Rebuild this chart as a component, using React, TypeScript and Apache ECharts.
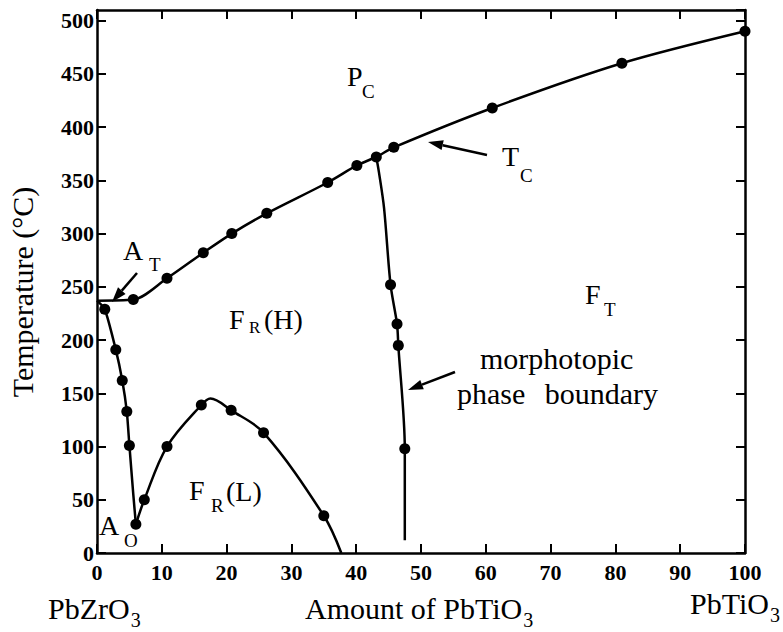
import React, { useEffect, useRef } from "react";
import * as echarts from "echarts";

const FONT = "'Liberation Serif', 'Times New Roman', serif";

// ---- data: [x (% PbTiO3), T (°C), marker 1 = measured dot, 0 = curve only]
const curieLine: [number, number, number][] = [
  [0, 237, 0], [5.6, 238, 1], [10.8, 258, 1], [16.4, 282, 1], [20.8, 300, 1],
  [26.2, 319, 1], [35.6, 348, 1], [40.1, 364, 1], [43.1, 372, 1], [45.8, 381, 1],
  [61.0, 418, 1], [81.0, 460, 1], [100, 490, 1],
];
const antiferroLine: [number, number, number][] = [
  [0, 237, 0], [1.2, 229, 1], [2.9, 191, 1], [3.9, 162, 1], [4.6, 133, 1],
  [5.0, 101, 1], [5.6, 55, 0], [6.0, 27, 1],
];
const lowHighLine: [number, number, number][] = [
  [6.0, 27, 0], [7.3, 50, 1], [10.8, 100, 1], [16.1, 139, 1], [17.5, 145, 0],
  [20.7, 134, 1], [25.7, 113, 1], [35.0, 35, 1], [37.7, 0, 0],
];
const mpbLine: [number, number, number][] = [
  [43.1, 372, 0], [43.5, 358, 0], [44.3, 324, 0], [45.3, 252, 1], [46.3, 215, 1],
  [46.5, 195, 1], [47.5, 98, 1], [47.5, 12, 0],
];

const xMin = 0, xMax = 100, xStep = 10;
const yMin = 0, yMax = 510, yStep = 50;

// ---- annotation layout (pixels)
const labels: { t: string; x: number; y: number; s: number; align?: string }[] = [
  { t: "P", x: 347, y: 76, s: 28 }, { t: "C", x: 362, y: 91, s: 19 },
  { t: "T", x: 502, y: 156, s: 28 }, { t: "C", x: 520, y: 175, s: 19 },
  { t: "A", x: 123, y: 250, s: 28 }, { t: "T", x: 149, y: 264, s: 19 },
  { t: "F", x: 229, y: 319, s: 28 }, { t: "R", x: 249, y: 327, s: 17 }, { t: "(H)", x: 264, y: 319, s: 28 },
  { t: "F", x: 585, y: 294, s: 28 }, { t: "T", x: 604, y: 309, s: 19 },
  { t: "morphotopic", x: 480, y: 358, s: 30 },
  { t: "phase", x: 457, y: 393, s: 30 }, { t: "boundary", x: 658, y: 393, s: 30, align: "right" },
  { t: "F", x: 189, y: 490, s: 28 }, { t: "R", x: 211, y: 505, s: 19 }, { t: "(L)", x: 226, y: 491, s: 28 },
  { t: "A", x: 99, y: 525, s: 28 }, { t: "O", x: 124, y: 540, s: 19 },
];
// name labels with a subscript placed right after the measured main text
const nameLabels: { t: string; sub: string; x: number; y: number; s: number }[] = [
  { t: "PbZrO", sub: "3", x: 48, y: 608, s: 30 },
  { t: "Amount of PbTiO", sub: "3", x: 305, y: 608, s: 30 },
  { t: "PbTiO", sub: "3", x: 690, y: 603, s: 30 },
];
const arrows: [number, number, number, number][] = [
  [487, 155, 428, 142],
  [137, 273, 112, 302],
  [455, 372, 408, 390],
];

function toData(points: [number, number, number][]) {
  return points.map(([x, y, m]) => (m ? { value: [x, y] } : { value: [x, y], symbol: "none" }));
}

function measure(text: string, size: number) {
  const c = document.createElement("canvas").getContext("2d");
  if (!c) return text.length * size * 0.5;
  c.font = `${size}px ${FONT}`;
  return c.measureText(text).width;
}

function textEl(t: string, x: number, y: number, s: number, align = "left") {
  return {
    type: "text",
    x,
    y,
    silent: true,
    style: {
      text: t,
      font: `${s}px ${FONT}`,
      fill: "#000",
      align,
      verticalAlign: "middle",
    },
  };
}

function arrowEls(x1: number, y1: number, x2: number, y2: number) {
  const dx = x2 - x1, dy = y2 - y1, L = Math.hypot(dx, dy);
  const ux = dx / L, uy = dy / L;
  const hl = 15, hw = 5;
  const bx = x2 - ux * hl, by = y2 - uy * hl;
  const px = -uy, py = ux;
  return [
    { type: "line", shape: { x1, y1, x2: bx, y2: by }, style: { stroke: "#000", lineWidth: 2.5 }, silent: true },
    {
      type: "polygon",
      shape: { points: [[x2, y2], [bx + px * hw, by + py * hw], [bx - px * hw, by - py * hw]] },
      style: { fill: "#000" },
      silent: true,
    },
  ];
}

const axisLine = { show: true, onZero: false, lineStyle: { color: "#000", width: 2.5 } };
const axisTick = { show: true, inside: true, length: 9, lineStyle: { color: "#000", width: 2 } };
const tickFont = { color: "#000", fontFamily: FONT, fontWeight: "bold" as const, fontSize: 22 };

export default function App() {
  const ref = useRef<HTMLDivElement>(null);
  useEffect(() => {
    if (!ref.current) return;
    const chart = echarts.init(ref.current, null, { renderer: "svg" });
    const lineSeries = (pts: [number, number, number][], smooth: number) => ({
      type: "line",
      data: toData(pts),
      smooth,
      symbol: "circle",
      symbolSize: 11,
      showSymbol: true,
      showAllSymbol: true,
      lineStyle: { color: "#000", width: 2.5 },
      itemStyle: { color: "#000" },
      silent: true,
      z: 3,
    });
    const graphic: any[] = [];
    labels.forEach((l) => graphic.push(textEl(l.t, l.x, l.y, l.s, l.align || "left")));
    nameLabels.forEach((l) => {
      graphic.push(textEl(l.t, l.x, l.y, l.s));
      graphic.push(textEl(l.sub, l.x + measure(l.t, l.s) + 1, l.y + 12, 20));
    });
    graphic.push({
      type: "text",
      x: 22,
      y: 292,
      rotation: Math.PI / 2,
      silent: true,
      style: {
        text: "Temperature (°C)",
        font: `30px ${FONT}`,
        fill: "#000",
        align: "center",
        verticalAlign: "middle",
      },
    });
    arrows.forEach((a) => graphic.push(...arrowEls(a[0], a[1], a[2], a[3])));

    chart.setOption({
      animation: false,
      backgroundColor: "#fff",
      textStyle: { fontFamily: FONT },
      grid: { left: 97, right: 38, top: 10, bottom: 79, containLabel: false },
      xAxis: [
        {
          type: "value", min: xMin, max: xMax, interval: xStep, position: "bottom",
          axisLine, axisTick, splitLine: { show: false },
          axisLabel: { ...tickFont, margin: 8 },
        },
        {
          type: "value", min: xMin, max: xMax, interval: xStep, position: "top",
          axisLine, axisTick, splitLine: { show: false }, axisLabel: { show: false },
        },
      ],
      yAxis: [
        {
          type: "value", min: yMin, max: yMax, interval: yStep, position: "left",
          axisLine, axisTick, splitLine: { show: false },
          axisLabel: { ...tickFont, margin: 3, showMaxLabel: false },
        },
        {
          type: "value", min: yMin, max: yMax, interval: yStep, position: "right",
          axisLine, axisTick, splitLine: { show: false }, axisLabel: { show: false },
        },
      ],
      series: [
        lineSeries(curieLine, 0.3),
        lineSeries(antiferroLine, 0.2),
        lineSeries(lowHighLine, 0.35),
        lineSeries(mpbLine, 0.3),
      ],
      graphic,
    });
    return () => chart.dispose();
  }, []);
  return (
    <div
      ref={ref}
      style={{ position: "fixed", left: 0, top: 0, width: 783, height: 632, background: "#fff" }}
    />
  );
}
